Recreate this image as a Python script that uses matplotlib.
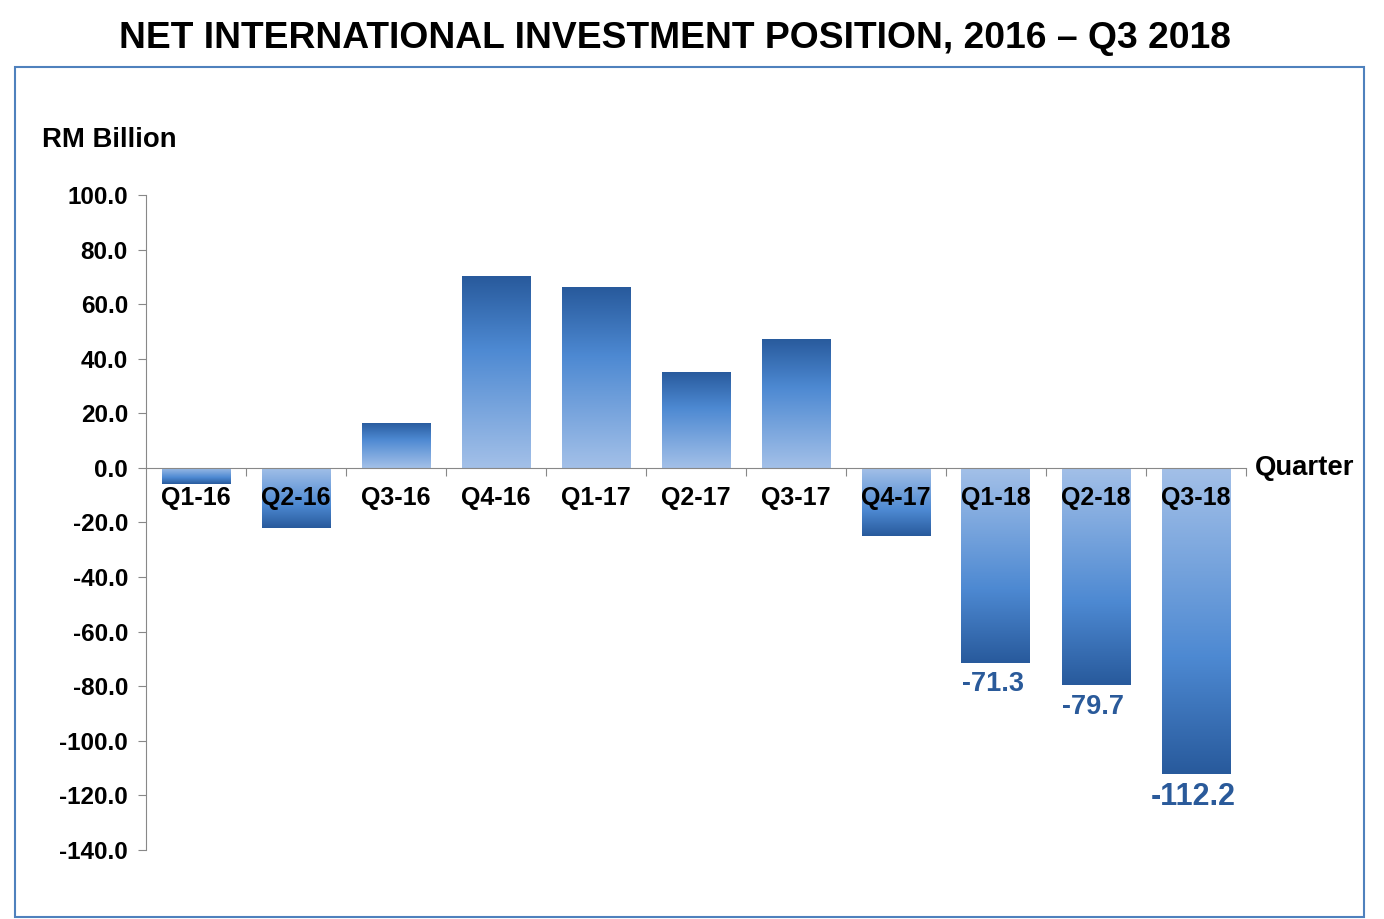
import numpy as np
import matplotlib
matplotlib.use("Agg")
import matplotlib.pyplot as plt
from matplotlib.colors import LinearSegmentedColormap
from matplotlib.patches import Rectangle

plt.rcParams["font.family"] = ["Liberation Sans", "DejaVu Sans"]
plt.rcParams["font.weight"] = "bold"

quarters = ["Q1-16", "Q2-16", "Q3-16", "Q4-16", "Q1-17", "Q2-17", "Q3-17",
            "Q4-17", "Q1-18", "Q2-18", "Q3-18"]
values = [-5.9, -22.0, 16.5, 70.3, 66.3, 35.2, 47.3, -24.9, -71.3, -79.7, -112.2]
labelled = {"Q1-18": 19.5, "Q2-18": 19.5, "Q3-18": 22}  # data labels, font size
yticks = [100, 80, 60, 40, 20, 0, -20, -40, -60, -80, -100, -120, -140]

W, H = 1384, 919
fig = plt.figure(figsize=(W / 100, H / 100), dpi=100)

# outer blue frame
fig.patches.append(Rectangle((15 / W, 2 / H), (1364 - 15) / W, (917 - 67) / H,
                             transform=fig.transFigure, fill=False,
                             edgecolor="#4f81bd", linewidth=1.5))

fig.text(675 / W, 1 - 39 / H, "NET INTERNATIONAL INVESTMENT POSITION, 2016 \u2013 Q3 2018",
         ha="center", va="center", fontsize=26.8, fontweight="bold")
fig.text(42 / W, 1 - 140 / H, "RM Billion", ha="left", va="center",
         fontsize=19.8, fontweight="bold")

ax = fig.add_axes([146 / W, 1 - 850 / H, 1100 / W, 655 / H])

cmap = LinearSegmentedColormap.from_list(
    "grad", [(0.0, "#a3c0e8"), (0.62, "#4d89d2"), (1.0, "#285a9c")])
grad = np.linspace(0, 1, 256).reshape(-1, 1)

x = np.arange(len(quarters)) + 0.5
bars = ax.bar(x, values, width=0.69, color="none", edgecolor="none")
for b, v in zip(bars, values):
    x0 = b.get_x()
    x1 = x0 + b.get_width()
    # light at the axis, dark at the bar end
    if v >= 0:
        img = ax.imshow(grad, extent=(x0, x1, 0, v), cmap=cmap,
                        aspect="auto", origin="lower", zorder=2)
    else:
        img = ax.imshow(grad, extent=(x0, x1, v, 0), cmap=cmap,
                        aspect="auto", origin="upper", zorder=2)
    img.set_clip_path(b)
ax.set_xlim(0, len(quarters))
ax.set_ylim(-140, 100)

for xi, q, v in zip(x, quarters, values):
    ax.text(xi, -11, q, ha="center", va="center", fontsize=18, fontweight="bold",
            zorder=3)
    if q in labelled:
        ax.text(xi - 0.03, v - 3, f"{v:.1f}", ha="center", va="top", color="#2a5a9a",
                fontsize=labelled[q], fontweight="bold", zorder=3)

ax.text(len(quarters) + 0.09, 0, "Quarter", ha="left", va="center",
        fontsize=19.8, fontweight="bold")

for s in ["top", "right"]:
    ax.spines[s].set_visible(False)
ax.spines["bottom"].set_position(("data", 0))
ax.spines["bottom"].set_color("#888888")
ax.spines["left"].set_color("#888888")
ax.set_xticks(np.arange(1, len(quarters) + 1))
ax.set_xticklabels([])
ax.tick_params(axis="x", length=6, color="#888888", direction="out")
ax.set_yticks(yticks)
ax.set_yticklabels([f"{t:.1f}" for t in yticks], fontsize=17.5, fontweight="bold")
ax.tick_params(axis="y", length=6, color="#888888", pad=7)

fig.savefig("out.png", dpi=100)
